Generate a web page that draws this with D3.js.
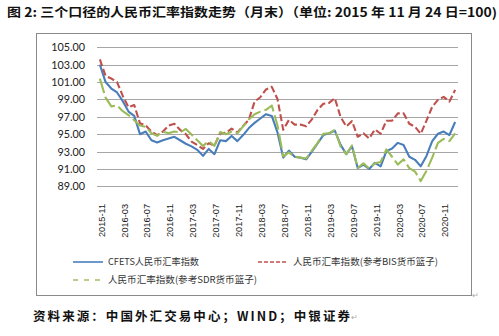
<!DOCTYPE html>
<html><head><meta charset="utf-8">
<script src="https://cdn.jsdelivr.net/npm/d3@7/dist/d3.min.js"></script>
<style>body{margin:0;background:#fff}svg{display:block}</style>
</head><body>
<svg id="c" width="499" height="336"></svg>
<script>
const categories = [
"2015-11","2015-12","2016-01","2016-02","2016-03","2016-04","2016-05","2016-06","2016-07","2016-08","2016-09","2016-10",
"2016-11","2016-12","2017-01","2017-02","2017-03","2017-04","2017-05","2017-06","2017-07","2017-08","2017-09","2017-10",
"2017-11","2017-12","2018-01","2018-02","2018-03","2018-04","2018-05","2018-06","2018-07","2018-08","2018-09","2018-10",
"2018-11","2018-12","2019-01","2019-02","2019-03","2019-04","2019-05","2019-06","2019-07","2019-08","2019-09","2019-10",
"2019-11","2019-12","2020-01","2020-02","2020-03","2020-04","2020-05","2020-06","2020-07","2020-08","2020-09","2020-10",
"2020-11","2020-12","2021-01"];
const tickLabels = ["2015-11","2016-03","2016-07","2016-11","2017-03","2017-07","2017-11","2018-03","2018-07","2018-11","2019-03","2019-07","2019-11","2020-03","2020-07","2020-11"];
const yTicks = [89,91,93,95,97,99,101,103,105];
const cfets = [103.0,101.0,100.25,99.8,98.8,97.6,97.1,95.0,95.3,94.3,94.05,94.3,
94.5,94.7,94.3,93.9,93.6,93.2,92.5,93.3,92.7,94.3,94.2,94.8,
94.2,94.9,95.7,96.3,96.8,97.3,97.1,95.2,92.3,93.1,92.4,92.3,
92.1,93.0,93.95,94.9,95.1,95.4,93.8,92.7,93.6,91.1,91.5,91.0,
91.7,91.3,93.05,93.35,94.0,93.75,92.4,92.05,91.3,92.5,94.2,95.05,
95.3,94.9,96.4];
const bis = [103.6,101.7,101.4,101.0,99.4,98.1,98.35,96.25,96.0,95.3,94.9,95.3,
96.0,96.2,95.5,95.0,94.15,93.75,93.3,93.95,93.7,95.1,95.15,95.65,
95.2,95.95,96.65,98.75,99.25,100.15,100.45,99.05,95.5,96.65,96.1,96.1,
95.9,96.7,97.8,98.5,98.6,99.15,97.0,95.9,96.5,94.7,95.1,94.5,
95.55,95.05,96.55,96.55,97.4,97.4,96.2,95.85,95.05,96.55,98.15,98.95,
99.3,98.75,100.1];
const sdr = [101.4,99.2,98.2,98.3,97.65,97.2,96.6,96.0,95.85,95.1,94.8,95.3,
95.1,95.3,95.2,95.6,94.95,94.3,93.65,94.2,93.65,95.25,95.0,95.3,
95.1,95.9,96.7,97.3,97.6,97.8,98.3,96.0,92.45,92.9,92.4,92.3,
92.2,93.1,94.0,95.05,95.1,95.5,93.6,92.7,93.7,91.1,91.65,91.05,
91.65,91.8,93.25,92.4,91.5,92.1,91.1,90.7,89.6,90.8,92.3,94.0,
94.45,94.2,95.1];
const seriesNames = ["CFETS人民币汇率指数","人民币汇率指数(参考BIS货币篮子)","人民币汇率指数(参考SDR货币篮子)"];
const titleText = "图 2: 三个口径的人民币汇率指数走势（月末）（单位: 2015 年 11 月 24 日=100)";
const sourceText = "资料来源：中国外汇交易中心；WIND；中银证券";

const svg = d3.select("#c");
const cjk = "'Noto Sans CJK SC','Noto Sans',sans-serif";

// title
svg.append("text").attr("x",7).attr("y",17).attr("font-family",cjk).attr("font-weight",700)
  .attr("font-size",12.5).attr("fill","#111").attr("textLength",490).attr("lengthAdjust","spacingAndGlyphs").text(titleText);

// frame
svg.append("rect").attr("x",36.5).attr("y",33.5).attr("width",435).attr("height",262)
  .attr("fill","none").attr("stroke","#8a8a8a").attr("stroke-width",1);

const x = d3.scaleBand().domain(categories).range([97,458]);
const y = d3.scaleLinear().domain([89,105]).range([186.3,47.3]);
const cx = d => x(d) + x.bandwidth()/2;

// gridlines
svg.append("g").selectAll("line").data(yTicks).join("line")
  .attr("x1",97).attr("x2",458).attr("y1",d=>Math.round(y(d))+0.5).attr("y2",d=>Math.round(y(d))+0.5)
  .attr("stroke","#a6a6a6").attr("stroke-width",1);

// y labels
const yAxis = d3.axisLeft(y).tickValues(yTicks).tickFormat(d3.format(".2f")).tickSize(0).tickPadding(0);
const gy = svg.append("g").attr("transform","translate(85,0)").call(yAxis);
gy.select(".domain").remove();
gy.selectAll("text").attr("font-family","Lato,'Open Sans',sans-serif").attr("font-size",10.8).attr("fill","#222");

// x labels
const xAxis = d3.axisBottom(x).tickValues(tickLabels).tickSize(0).tickPadding(0);
const gx = svg.append("g").attr("transform","translate(1.5,204)").call(xAxis);
gx.select(".domain").remove();
gx.selectAll("text").attr("transform","rotate(-90)").attr("text-anchor","end")
  .attr("x",0).attr("y",0).attr("dy","0.35em")
  .attr("font-family","'Liberation Sans',Arial,sans-serif").attr("font-size",9.2).attr("fill","#222");

const line = d3.line().x((d,i)=>cx(categories[i])).y(d=>y(d));
const styles = [
  {data:cfets, color:"#4a7ebb", dash:null},
  {data:bis, color:"#c0504d", dash:"7,3"},
  {data:sdr, color:"#9bbb59", dash:"15,4"}
];
styles.forEach(s=>{
  svg.append("path").datum(s.data).attr("d",line).attr("fill","none")
    .attr("stroke",s.color).attr("stroke-width",2.1).attr("stroke-linejoin","round")
    .attr("stroke-dasharray",s.dash);
});

// legend
const legend = [
  {x1:73,x2:103,y:262,tx:108,tw:91,color:"#4a7ebb",dash:null,name:seriesNames[0]},
  {x1:258,x2:287,y:262,tx:293,tw:145,color:"#c0504d",dash:"4,2",name:seriesNames[1]},
  {x1:73,x2:101,y:280,tx:108,tw:149,color:"#a9b867",dash:"5,6",name:seriesNames[2]}
];
legend.forEach(l=>{
  svg.append("line").attr("x1",l.x1).attr("x2",l.x2).attr("y1",l.y).attr("y2",l.y)
    .attr("stroke",l.color).attr("stroke-width",1.6).attr("stroke-dasharray",l.dash);
  svg.append("text").attr("x",l.tx).attr("y",l.y).attr("dy","0.35em").attr("font-family",cjk)
    .attr("font-size",9.5).attr("fill","#333").attr("textLength",l.tw).attr("lengthAdjust","spacingAndGlyphs").text(l.name);
});

// source
svg.append("text").attr("x",33).attr("y",317).attr("dy","0.35em").attr("font-family",cjk).attr("font-weight",700)
  .attr("font-size",12.5).attr("fill","#111").attr("textLength",317).attr("lengthAdjust","spacing").text(sourceText);
svg.append("text").attr("x",351).attr("y",320).attr("font-family",cjk).attr("font-size",8).attr("fill","#aaa").text("↵");
svg.append("text").attr("x",472).attr("y",298).attr("font-family",cjk).attr("font-size",8).attr("fill","#aaa").text("↵");
</script>
</body></html>
